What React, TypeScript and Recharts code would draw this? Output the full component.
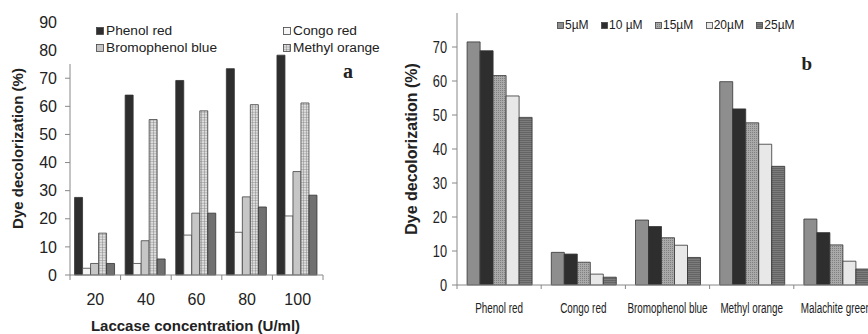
import { BarChart, Bar, XAxis, YAxis, Legend, Label } from 'recharts'

// panel a: laccase concentration (U/ml)
const concA = ['20', '40', '60', '80', '100']
const phenolRedA = [27.6, 64, 69.2, 73.4, 78.2]
const congoRedA = [2.4, 4.1, 14.2, 15.2, 21]
const bromophenolBlueA = [4.1, 12.2, 22, 27.8, 36.8]
const methylOrangeA = [14.9, 55.3, 58.4, 60.6, 61.2]
const malachiteGreenA = [4.1, 5.7, 22, 24.2, 28.4]
const yTicksA = [0, 10, 20, 30, 40, 50, 60, 70, 80, 90]
const legendNamesA = ['Phenol red', 'Congo red', 'Bromophenol blue', 'Methyl orange']

// panel b: mediator concentration
const dyesB = ['Phenol red', 'Congo red', 'Bromophenol blue', 'Methyl orange', 'Malachite green']
const uM5 = [71.5, 9.6, 19.1, 59.8, 19.4]
const uM10 = [68.9, 9.1, 17.2, 51.8, 15.4]
const uM15 = [61.6, 6.7, 13.9, 47.7, 11.8]
const uM20 = [55.6, 3.2, 11.7, 41.4, 7.0]
const uM25 = [49.3, 2.3, 8.1, 34.9, 4.7]
const yTicksB = [0, 10, 20, 30, 40, 50, 60, 70]
const legendNamesB = ['5µM', '10 µM', '15µM', '20µM', '25µM']

const dataA = concA.map((c, i) => ({
  conc: c,
  phenolRed: phenolRedA[i],
  congoRed: congoRedA[i],
  bromophenolBlue: bromophenolBlueA[i],
  methylOrange: methylOrangeA[i],
  malachiteGreen: malachiteGreenA[i],
}))

const dataB = dyesB.map((d, i) => ({
  dye: d,
  u5: uM5[i],
  u10: uM10[i],
  u15: uM15[i],
  u20: uM20[i],
  u25: uM25[i],
}))

const SANS = '"Liberation Sans", Arial, sans-serif'
const SERIF = '"Liberation Serif", "Times New Roman", serif'
const TEXT = '#222'
const AXIS = '#888'

// tick marks sit on the category boundaries (half a band either side of the label)
function BoundaryMarks({ x, y, half, last, len }: any) {
  return (
    <>
      <line x1={x - half} x2={x - half} y1={y} y2={y + len} stroke={AXIS} />
      {last && <line x1={x + half} x2={x + half} y1={y} y2={y + len} stroke={AXIS} />}
    </>
  )
}

function XTickA({ x, y, payload, index, visibleTicksCount }: any) {
  return (
    <g>
      <BoundaryMarks x={x} y={y} half={payload.offset || 0} last={index === visibleTicksCount - 1} len={5} />
      <text x={x} y={y + 29.7} textAnchor="middle" fontSize={16} fontFamily={SANS} fill={TEXT}>
        {payload.value}
      </text>
    </g>
  )
}

function XTickB({ x, y, payload, index, visibleTicksCount }: any) {
  return (
    <g>
      <BoundaryMarks x={x} y={y} half={payload.offset || 0} last={index === visibleTicksCount - 1} len={4} />
      <g transform={`translate(${x},${y + 27.5})`}>
        <text transform="scale(0.66,1)" textAnchor="middle" fontSize={15} fontFamily={SANS} fill={TEXT}>
          {payload.value}
        </text>
      </g>
    </g>
  )
}

function YTickB({ x, y, payload }: any) {
  return (
    <g transform={`translate(${x},${y})`}>
      <text transform="scale(0.8,1)" textAnchor="end" dy="0.36em" fontSize={16} fontFamily={SANS} fill={TEXT}>
        {payload.value}
      </text>
    </g>
  )
}

function LegendA({ payload }: any) {
  const items = (payload || [])
    .filter((p: any) => legendNamesA.includes(p.value))
    .sort((a: any, b: any) => legendNamesA.indexOf(a.value) - legendNamesA.indexOf(b.value))
  return (
    <div
      style={{
        display: 'grid',
        gridTemplateColumns: '187px auto',
        paddingLeft: 34,
        paddingTop: 4.6,
        fontFamily: SANS,
        fontSize: 13.7,
        color: TEXT,
      }}
    >
      {items.map((p: any) => (
        <div key={p.value} style={{ display: 'flex', alignItems: 'center', height: 16.7, whiteSpace: 'nowrap' }}>
          <svg width={9} height={8} style={{ marginRight: 1 }}>
            <rect x={0.5} y={0.5} width={7} height={7} fill={p.color} stroke="#444" strokeWidth={0.8} />
          </svg>
          <span>{p.value}</span>
        </div>
      ))}
    </div>
  )
}

function LegendB({ payload }: any) {
  const items = (payload || [])
    .filter((p: any) => legendNamesB.includes(p.value))
    .sort((a: any, b: any) => legendNamesB.indexOf(a.value) - legendNamesB.indexOf(b.value))
  return (
    <div style={{ display: 'flex', gap: 12.4, paddingLeft: 7, fontFamily: SANS, fontSize: 12, color: TEXT }}>
      {items.map((p: any) => (
        <div key={p.value} style={{ display: 'flex', alignItems: 'center', height: 16, whiteSpace: 'nowrap' }}>
          <svg width={8} height={7}>
            <rect x={0.5} y={0.5} width={6} height={6} fill={p.color} stroke="#444" strokeWidth={0.8} />
          </svg>
          <span>{p.value}</span>
        </div>
      ))}
    </div>
  )
}

function PanelA() {
  return (
    <BarChart
      width={400}
      height={334}
      data={dataA}
      margin={{ top: 22, right: 77, bottom: 0, left: 0 }}
      barCategoryGap="9%"
      barGap={0}
    >
      <defs>
        <pattern id="gridA" width="3" height="2.6" patternUnits="userSpaceOnUse">
          <rect width="3" height="2.6" fill="#dedede" />
          <path d="M0 0 H3 M0 0 V2.6" stroke="#7a7a7a" strokeWidth="0.8" />
        </pattern>
      </defs>
      <XAxis
        dataKey="conc"
        interval={0}
        tickLine={false}
        tickSize={0}
        tickMargin={0}
        height={59}
        axisLine={{ stroke: AXIS }}
        tick={<XTickA />}
      >
        <Label
          value="Laccase concentration (U/ml)"
          position="insideBottom"
          offset={3.5}
          dx={-1}
          fontSize={15}
          fontWeight={700}
          fontFamily={SANS}
          fill={TEXT}
        />
      </XAxis>
      <YAxis
        width={70}
        domain={[0, 90]}
        ticks={yTicksA}
        interval={0}
        tickSize={5}
        tickMargin={8}
        axisLine={{ stroke: AXIS }}
        tickLine={{ stroke: AXIS }}
        tick={{ fontSize: 16, fontFamily: SANS, fill: TEXT }}
      >
        <Label
          value="Dye decolorization (%)"
          angle={-90}
          position="center"
          dx={-17}
          fontSize={15}
          fontWeight={700}
          fontFamily={SANS}
          fill={TEXT}
        />
      </YAxis>
      <Legend
        layout="horizontal"
        verticalAlign="middle"
        align="center"
        content={<LegendA />}
        wrapperStyle={{
          top: 18,
          left: 62,
          width: 320,
          height: 46,
          background: 'linear-gradient(to right, #fff 190px, transparent 190px)',
        }}
      />
      <Bar dataKey="phenolRed" name="Phenol red" fill="#2e2e2e" stroke="#333" strokeWidth={0.8} isAnimationActive={false} />
      <Bar dataKey="congoRed" name="Congo red" fill="#f6f6f6" stroke="#444" strokeWidth={0.8} isAnimationActive={false} />
      <Bar dataKey="bromophenolBlue" name="Bromophenol blue" fill="#c6c6c6" stroke="#444" strokeWidth={0.8} isAnimationActive={false} />
      <Bar dataKey="methylOrange" name="Methyl orange" fill="url(#gridA)" stroke="#444" strokeWidth={0.8} isAnimationActive={false} />
      <Bar dataKey="malachiteGreen" name="Malachite green" legendType="none" fill="#707070" stroke="#333" strokeWidth={0.8} isAnimationActive={false} />
    </BarChart>
  )
}

function PanelB() {
  return (
    <BarChart
      width={478}
      height={334}
      data={dataB}
      margin={{ top: 13, right: 0, bottom: 0, left: 0 }}
      barCategoryGap="12%"
      barGap={0}
    >
      <defs>
        <pattern id="dotsB" width="2" height="2" patternUnits="userSpaceOnUse">
          <rect width="2" height="2" fill="#a9a9a9" />
          <rect width="1" height="1" fill="#808080" />
        </pattern>
        <pattern id="linesB" width="4" height="2" patternUnits="userSpaceOnUse">
          <rect width="4" height="2" fill="#7c7c7c" />
          <path d="M0 0.5 H4" stroke="#5e5e5e" strokeWidth="0.8" />
        </pattern>
      </defs>
      <XAxis
        dataKey="dye"
        interval={0}
        tickLine={false}
        tickSize={0}
        tickMargin={0}
        height={49}
        axisLine={{ stroke: AXIS }}
        tick={<XTickB />}
      />
      <YAxis
        width={57}
        domain={[0, 80]}
        ticks={yTicksB}
        interval={0}
        tickSize={5}
        tickMargin={5}
        axisLine={{ stroke: AXIS }}
        tickLine={{ stroke: AXIS }}
        tick={<YTickB />}
      >
        <Label
          value="Dye decolorization (%)"
          angle={-90}
          position="center"
          dx={-17}
          fontSize={16}
          fontWeight={700}
          fontFamily={SANS}
          fill={TEXT}
        />
      </YAxis>
      <Legend
        layout="horizontal"
        verticalAlign="middle"
        align="center"
        content={<LegendB />}
        wrapperStyle={{ top: 17, left: 150, width: 280, height: 16 }}
      />
      <Bar dataKey="u5" name="5µM" fill="#8e8e8e" stroke="#333" strokeWidth={0.8} isAnimationActive={false} />
      <Bar dataKey="u10" name="10 µM" fill="#2e2e2e" stroke="#333" strokeWidth={0.8} isAnimationActive={false} />
      <Bar dataKey="u15" name="15µM" fill="url(#dotsB)" stroke="#333" strokeWidth={0.8} isAnimationActive={false} />
      <Bar dataKey="u20" name="20µM" fill="#e8e8e8" stroke="#333" strokeWidth={0.8} isAnimationActive={false} />
      <Bar dataKey="u25" name="25µM" fill="url(#linesB)" stroke="#333" strokeWidth={0.8} isAnimationActive={false} />
    </BarChart>
  )
}

export default function App() {
  return (
    <div style={{ position: 'absolute', left: 0, top: 0, width: 868, height: 334, overflow: 'hidden', background: '#fff' }}>
      <div style={{ position: 'absolute', left: 0, top: 0 }}>
        <PanelA />
      </div>
      <div style={{ position: 'absolute', left: 400, top: 0 }}>
        <PanelB />
      </div>
      <svg width={868} height={334} style={{ position: 'absolute', left: 0, top: 0, pointerEvents: 'none' }}>
        <text x={348} y={78} textAnchor="middle" fontFamily={SERIF} fontWeight={700} fontSize={20} fill={TEXT}>
          a
        </text>
        <text x={806.7} y={70} textAnchor="middle" fontFamily={SERIF} fontWeight={700} fontSize={19} fill={TEXT}>
          b
        </text>
      </svg>
    </div>
  )
}
